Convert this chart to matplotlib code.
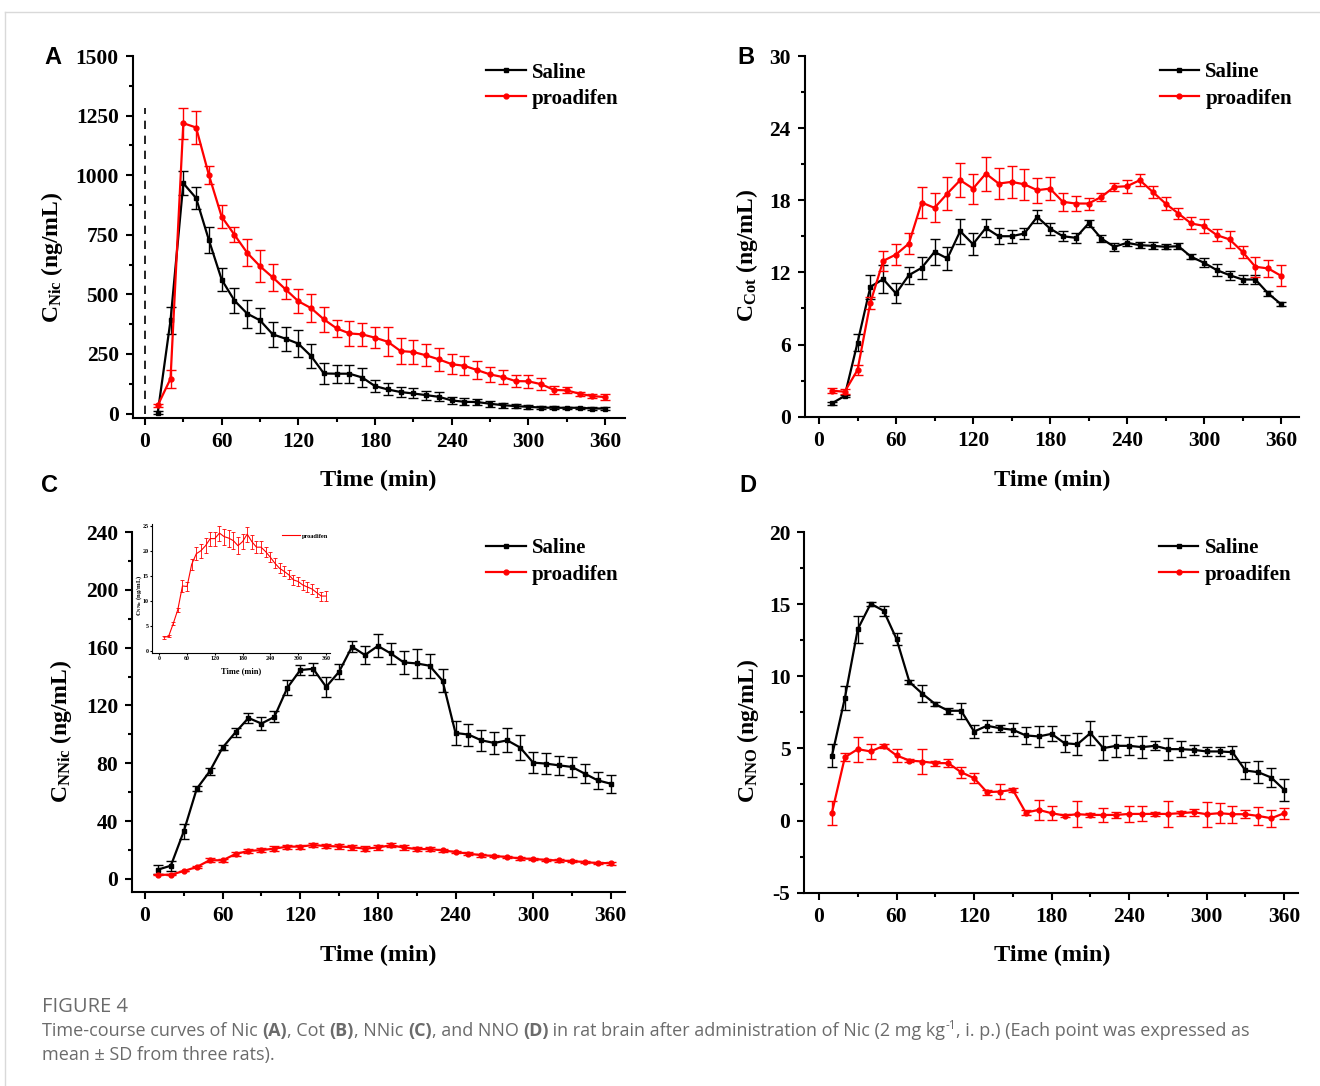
import numpy as np
import matplotlib
matplotlib.use("Agg")
import matplotlib.pyplot as plt
from matplotlib.ticker import MultipleLocator
from matplotlib.lines import Line2D

# ---------------------------------------------------------------
# data (mean and SD, n = 3 rats)
# ---------------------------------------------------------------
time_min = [10, 20, 30, 40, 50, 60, 70, 80, 90, 100, 110, 120,
            130, 140, 150, 160, 170, 180, 190, 200, 210, 220, 230, 240,
            250, 260, 270, 280, 290, 300, 310, 320, 330, 340, 350, 360]

# A  Nic
nic_saline = [3, 391, 966, 904, 728, 562, 474, 419, 391, 332, 314, 293,
              241, 168, 167, 167, 151, 115, 101, 90, 84, 77, 70, 55,
              49, 48, 41, 35, 31, 28, 25, 24, 24, 24, 21, 21]
nic_saline_sd = [6, 57, 50, 45, 55, 49, 52, 59, 52, 53, 50, 57,
                 51, 44, 37, 38, 38, 26, 25, 21, 21, 19, 19, 15,
                 15, 13, 13, 11, 8, 7, 6, 6, 5, 5, 5, 5]
nic_pro = [34, 146, 1218, 1200, 1001, 826, 750, 674, 618, 571, 521, 471,
           442, 395, 357, 336, 332, 318, 301, 262, 258, 244, 227, 207,
           200, 182, 164, 153, 136, 135, 123, 99, 97, 83, 73, 69]
nic_pro_sd = [7, 38, 65, 70, 38, 48, 31, 57, 67, 56, 42, 50,
              60, 53, 36, 53, 49, 45, 60, 54, 50, 46, 49, 42,
              40, 37, 31, 29, 26, 26, 25, 16, 13, 9, 8, 11]

# B  Cot
cot_saline = [1.11, 1.72, 6.15, 10.8, 11.44, 10.25, 11.77, 12.38, 13.71, 13.16, 15.43, 14.35,
              15.7, 15.01, 15.01, 15.24, 16.62, 15.65, 15.01, 14.88, 16.07, 14.82, 14.13, 14.46,
              14.27, 14.21, 14.13, 14.18, 13.3, 12.8, 12.19, 11.77, 11.41, 11.41, 10.25, 9.36]
cot_saline_sd = [0.15, 0.1, 0.7, 0.97, 1.18, 0.83, 0.7, 0.9, 1.1, 0.95, 1.05, 0.9,
                 0.75, 0.65, 0.55, 0.47, 0.55, 0.5, 0.42, 0.42, 0.28, 0.33, 0.33, 0.28,
                 0.28, 0.28, 0.22, 0.26, 0.22, 0.37, 0.47, 0.36, 0.37, 0.41, 0.18, 0.14]
cot_pro = [2.16, 2.08, 3.88, 9.47, 12.96, 13.49, 14.4, 17.81, 17.37, 18.56, 19.67, 18.97,
           20.22, 19.39, 19.53, 19.33, 18.84, 18.97, 17.87, 17.73, 17.73, 18.28, 19.11, 19.17,
           19.67, 18.7, 17.73, 16.9, 16.07, 15.87, 15.1, 14.74, 13.71, 12.47, 12.33, 11.72]
cot_pro_sd = [0.22, 0.2, 0.4, 0.5, 0.83, 0.87, 0.89, 1.3, 1.2, 1.35, 1.43, 1.25,
              1.41, 1.27, 1.31, 1.31, 1.04, 0.97, 0.75, 0.61, 0.5, 0.36, 0.33, 0.55,
              0.5, 0.47, 0.55, 0.47, 0.5, 0.57, 0.47, 0.69, 0.47, 0.83, 0.72, 0.87]

# C  NNic
nnic_saline = [6.5, 9.2, 33, 62.4, 74.4, 90.9, 101.5, 111.4, 107.5, 112.1, 132.2, 144.5,
               145.4, 132.9, 143.3, 160.7, 154.9, 161.2, 156, 149.8, 149.1, 147.5, 137.1, 101,
               99.9, 95.9, 94.1, 95.9, 90.9, 80.5, 79.8, 78.6, 77.5, 72.8, 68.2, 65.9]
nnic_saline_sd = [3, 3.5, 5, 1.7, 2.3, 1.5, 3.2, 3.5, 4.2, 3.8, 5.2, 3.5,
                  4.3, 7, 5.3, 4, 6, 8, 7.5, 7.7, 10, 8.3, 7.9, 8,
                  7.6, 7.2, 7.5, 8.2, 8.4, 7.3, 7.3, 6.4, 6.7, 6.4, 6.1, 6.1]
nnic_pro = [2.84, 2.98, 5.5, 8.3, 13.0, 12.9, 17.3, 19.4, 20.0, 21.0, 22.4, 22.4,
            23.5, 22.8, 22.5, 22.0, 21.0, 21.8, 23.3, 21.8, 20.7, 20.7, 19.8, 18.7,
            17.5, 16.5, 15.9, 15.2, 14.2, 13.9, 13.2, 12.8, 12.4, 11.7, 11.0, 11.0]
nnic_pro_sd = [0.3, 0.2, 0.3, 0.4, 1.2, 0.8, 1.1, 1.3, 1.4, 1.5, 1.4, 1.4,
               1.5, 1.6, 1.7, 1.7, 1.7, 1.5, 1.5, 1.4, 1.2, 1.2, 1.0, 1.0,
               1.0, 1.0, 1.0, 0.9, 1.0, 0.9, 0.9, 0.9, 0.9, 0.9, 0.9, 1.0]

# D  NNO
nno_saline = [4.49, 8.49, 13.27, 15.03, 14.54, 12.58, 9.6, 8.79, 8.07, 7.61, 7.61, 6.17,
              6.57, 6.4, 6.29, 5.9, 5.83, 6.01, 5.36, 5.29, 6.06, 5.02, 5.18, 5.18,
              5.09, 5.18, 4.95, 4.95, 4.9, 4.79, 4.79, 4.74, 3.47, 3.35, 2.98, 2.13]
nno_saline_sd = [0.8, 0.85, 0.94, 0.13, 0.35, 0.4, 0.12, 0.58, 0.13, 0.2, 0.55, 0.46,
                 0.4, 0.23, 0.46, 0.57, 0.75, 0.52, 0.6, 0.77, 0.81, 0.83, 0.77, 0.61,
                 0.77, 0.31, 0.77, 0.54, 0.37, 0.3, 0.3, 0.46, 0.59, 0.75, 0.67, 0.75]
nno_pro = [0.55, 4.39, 4.95, 4.79, 5.18, 4.51, 4.16, 4.09, 3.98, 3.98, 3.35, 2.94,
           1.97, 2.01, 2.13, 0.55, 0.74, 0.51, 0.35, 0.44, 0.39, 0.39, 0.39, 0.46,
           0.46, 0.46, 0.46, 0.51, 0.58, 0.44, 0.51, 0.44, 0.44, 0.32, 0.16, 0.51]
nno_pro_sd = [0.83, 0.29, 0.87, 0.55, 0.12, 0.43, 0.1, 0.87, 0.17, 0.3, 0.38, 0.35,
              0.17, 0.55, 0.12, 0.17, 0.69, 0.49, 0.08, 0.89, 0.16, 0.46, 0.23, 0.58,
              0.52, 0.12, 0.89, 0.16, 0.23, 0.87, 0.69, 0.58, 0.27, 0.61, 0.6, 0.39]

dose_time = 0          # dashed marker of the injection in panel A
dose_line_top = 1280

x_ticks = [0, 60, 120, 180, 240, 300, 360]

# ---------------------------------------------------------------
# style
# ---------------------------------------------------------------
plt.rcParams['font.family'] = 'Liberation Serif'
plt.rcParams['font.weight'] = 'bold'
plt.rcParams['mathtext.fontset'] = 'custom'
plt.rcParams['mathtext.rm'] = 'Liberation Serif:bold'
plt.rcParams['mathtext.bf'] = 'Liberation Serif:bold'
plt.rcParams['mathtext.it'] = 'Liberation Serif:bold:italic'
plt.rcParams['axes.unicode_minus'] = False

RED = '#ff0000'
CAP_COLOR = '#6b6b6b'
W, H = 1320, 1086

fig = plt.figure(figsize=(W / 100, H / 100), dpi=100)


def px_rect(left, top, right, bottom):
    return [left / W, 1 - bottom / H, (right - left) / W, (bottom - top) / H]


def panel(rect, xlim, ylim, yticks, yminor, sal, sal_sd, pro, pro_sd):
    ax = fig.add_axes(rect)
    ax.errorbar(time_min, sal, yerr=sal_sd, color='black', marker='s', ms=3.5,
                lw=1.6, elinewidth=1.0, capsize=3.5, capthick=1.0, zorder=3)
    ax.errorbar(time_min, pro, yerr=pro_sd, color=RED, marker='o', ms=3.5,
                lw=1.6, elinewidth=1.0, capsize=3.5, capthick=1.0, zorder=4)
    ax.set_xlim(*xlim)
    ax.set_ylim(*ylim)
    ax.set_xticks(x_ticks)
    ax.xaxis.set_minor_locator(MultipleLocator(30))
    ax.set_yticks(yticks)
    ax.yaxis.set_minor_locator(MultipleLocator(yminor))
    for s in ['top', 'right']:
        ax.spines[s].set_visible(False)
    for s in ['left', 'bottom']:
        ax.spines[s].set_linewidth(1.5)
    ax.tick_params(which='major', direction='out', length=5, width=1.5,
                   labelsize=15.5, pad=5)
    ax.tick_params(which='minor', direction='out', length=3, width=1.5)
    handles = [Line2D([], [], color='black', marker='s', ms=3.5, lw=1.6),
               Line2D([], [], color=RED, marker='o', ms=3.5, lw=1.6)]
    ax.legend(handles, ['Saline', 'proadifen'], loc='upper left',
              bbox_to_anchor=(0.718, 0.982), frameon=False, fontsize=15,
              handlelength=1.9, handletextpad=0.3, labelspacing=0.3,
              borderpad=0, borderaxespad=0)
    return ax


axA = panel(px_rect(132.7, 56, 625, 417.7), (-9.6, 375.6), (-17.6, 1500),
            [0, 250, 500, 750, 1000, 1250, 1500], 125,
            nic_saline, nic_saline_sd, nic_pro, nic_pro_sd)
axA.plot([dose_time, dose_time], [0, dose_line_top], color='black', lw=1.2,
         ls=(0, (5, 4)), zorder=2)

axB = panel(px_rect(804.5, 56, 1299, 416.7), (-11.3, 374), (0, 30),
            [0, 6, 12, 18, 24, 30], 3,
            cot_saline, cot_saline_sd, cot_pro, cot_pro_sd)

axC = panel(px_rect(132.3, 532, 625, 892.3), (-9.8, 371), (-9.2, 240),
            [0, 40, 80, 120, 160, 200, 240], 20,
            nnic_saline, nnic_saline_sd, nnic_pro, nnic_pro_sd)

axD = panel(px_rect(804.3, 532, 1298, 892.7), (-11.4, 370.7), (-5, 20),
            [-5, 0, 5, 10, 15, 20], 2.5,
            nno_saline, nno_saline_sd, nno_pro, nno_pro_sd)

# axis titles and panel letters
ylabels = [r'$\mathbf{C_{Nic}}$ (ng/mL)', r'$\mathbf{C_{Cot}}$ (ng/mL)',
           r'$\mathbf{C_{NNic}}$ (ng/mL)', r'$\mathbf{C_{NNO}}$ (ng/mL)']
ylabel_xy = [(52, 257), (747, 255), (61, 731), (748, 731)]
for lab, (x, y) in zip(ylabels, ylabel_xy):
    fig.text(x / W, 1 - y / H, lab, rotation=90, ha='center', va='center',
             fontsize=17)

for (x, y) in [(378, 480), (1052, 480), (378, 955), (1052, 955)]:
    fig.text(x / W, 1 - y / H, 'Time (min)', ha='center', va='center', fontsize=17.5)

for letter, (x, y) in zip('ABCD', [(53, 58), (746, 58), (50, 485), (748, 485)]):
    fig.text(x / W, 1 - y / H, letter, ha='center', va='center', fontsize=17,
             family='Liberation Sans', weight='bold')

# inset in panel C: proadifen only
axI = fig.add_axes(px_rect(152, 524, 330, 653))
axI.set_facecolor('none')
axI.errorbar(time_min, nnic_pro, yerr=nnic_pro_sd, color=RED, lw=0.8,
             elinewidth=0.6, capsize=1.6, capthick=0.6)
axI.set_xlim(-15.8, 369)
axI.set_ylim(-0.3, 25.3)
axI.set_xticks(x_ticks)
axI.set_yticks([0, 5, 10, 15, 20, 25])
for s in ['top', 'right']:
    axI.spines[s].set_visible(False)
for s in ['left', 'bottom']:
    axI.spines[s].set_linewidth(0.8)
axI.tick_params(direction='out', length=1.5, width=0.8, labelsize=4.3, pad=1)
axI.legend([Line2D([], [], color=RED, lw=0.8)], ['proadifen'], loc='upper left',
           bbox_to_anchor=(0.73, 0.93), frameon=False, fontsize=4.6,
           handlelength=2.9, handletextpad=0.2, borderpad=0, borderaxespad=0)
fig.text(139 / W, 1 - 595 / H, r'$\mathbf{C_{NNic}}$ (ng/mL)', rotation=90,
         ha='center', va='center', fontsize=4.8)
fig.text(241 / W, 1 - 671 / H, 'Time (min)', ha='center', va='center', fontsize=6)

# page frame lines
fig.add_artist(Line2D([5 / W, 1], [1 - 12 / H, 1 - 12 / H], color='#d9d9d9', lw=1))
fig.add_artist(Line2D([5 / W, 5 / W], [0, 1 - 12 / H], color='#d9d9d9', lw=1))

# caption
renderer = fig.canvas.get_renderer()
CAP_FONT = ['Open Sans', 'DejaVu Sans']


def caption_line(x_px, base_px, parts, size=13):
    x = x_px / W
    for txt, style in parts:
        kw = dict(fontsize=size, color=CAP_COLOR, family=CAP_FONT,
                  va='baseline', ha='left', weight='normal')
        y = 1 - base_px / H
        if style == 'b':
            kw['weight'] = 'bold'
        if style == 'sup':
            kw['fontsize'] = size * 0.65
            y = 1 - (base_px - 7) / H
        t = fig.text(x, y, txt, **kw)
        x += t.get_window_extent(renderer).width / W


fig.text(42 / W, 1 - 1012 / H, 'FIGURE 4', fontsize=14.5, color=CAP_COLOR,
         family=CAP_FONT, weight='normal', va='baseline')
caption_line(42, 1036, [
    ('Time-course curves of Nic ', 'n'), ('(A)', 'b'), (', Cot ', 'n'), ('(B)', 'b'),
    (', NNic ', 'n'), ('(C)', 'b'), (', and NNO ', 'n'), ('(D)', 'b'),
    (' in rat brain after administration of Nic (2 mg kg', 'n'), ('-1', 'sup'),
    (', i. p.) (Each point was expressed as', 'n')])
caption_line(42, 1060, [('mean ± SD from three rats).', 'n')])

fig.savefig('out.png', dpi=100)
